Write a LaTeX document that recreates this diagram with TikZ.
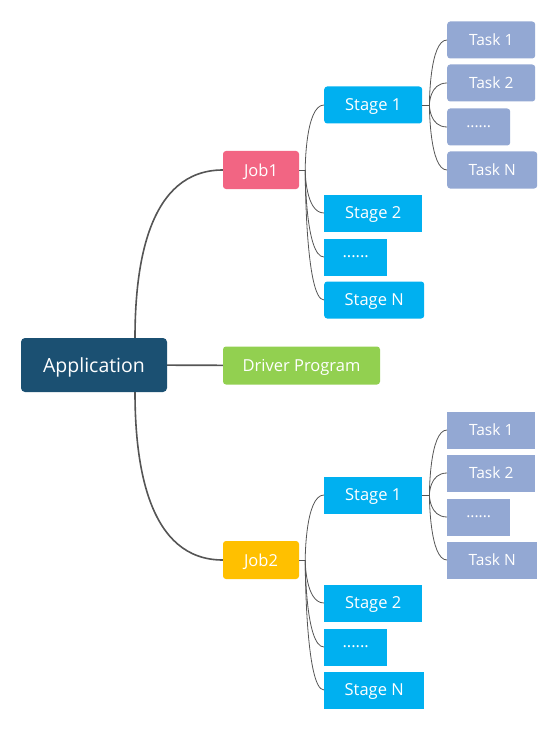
\documentclass[tikz,border=0pt]{standalone}
\usepackage{fontspec}
\setmainfont{Open Sans}
\usepackage{tikz}
\usetikzlibrary{%
	positioning% wg. " of "
}
\definecolor{appblue}{HTML}{1B5072}
\definecolor{jobpink}{HTML}{F26583}
\definecolor{jobyellow}{HTML}{FFC000}
\definecolor{drvgreen}{HTML}{92D050}
\definecolor{stageblue}{HTML}{00B0F0}
\definecolor{taskblue}{HTML}{93A8D3}
\definecolor{linegray}{HTML}{555555}
\tikzstyle{box} = [text=white, inner sep=0pt, text depth=0pt, minimum height=37pt, font=\fontsize{16.5}{19}\selectfont]
\tikzstyle{app} = [box, fill=appblue, rounded corners=4pt, minimum width=146pt, minimum height=54pt, font=\fontsize{19.5}{23}\selectfont]
\tikzstyle{job} = [box, rounded corners=3pt, minimum width=76pt, minimum height=38pt]
\tikzstyle{stage} = [box, fill=stageblue, anchor=west]
\tikzstyle{task} = [box, fill=taskblue, anchor=west, font=\fontsize{15.5}{18}\selectfont]
\tikzstyle{link} = [draw=linegray, line width=1.6pt]
\tikzstyle{branch} = [draw=linegray, line width=0.8pt]

\begin{document}
\begin{tikzpicture}[x=1pt,y=-1pt]
	\useasboundingbox (0,0) rectangle (558,730);
	
	% root and driver
	\node[app] (app) at (94,365) {Application};
	\node[job, fill=drvgreen, minimum width=157pt] (drv) at (301.5,365.5) {Driver Program};
	\path[link] (app) -- (drv);
	
	% the jobs
	\foreach \j/\y/\col in {1/170/jobpink, 2/560/jobyellow}
	\node[job, fill=\col] (job\j) at (261,\y) {Job\j};
	
	\coordinate[right=41pt of app.north] (up);
	\coordinate[right=41pt of app.south] (down);
	\path[link] (up) to[out=90,in=180] (job1.west);
	\path[link] (down) to[out=-90,in=180] (job2.west);
	
	% stages and tasks of each job
	\foreach \j/\y/\rc in {1/170/3pt, 2/560/0pt} {
		\foreach \k/\dy/\w/\r/\txt in {
			1/-65/98/\rc/{Stage 1},
			2/43/98/0pt/{Stage 2},
			3/87/63/0pt/{......},
			N/130/100/\rc/{Stage N}
		}
		\node[stage, minimum width=\w pt, rounded corners=\r] (s\j\k) at (324,\y+\dy) {\txt};
		
		\foreach \k/\dy/\w/\txt in {
			1/-130/88/{Task 1},
			2/-87/88/{Task 2},
			3/-43/63/{......},
			N/0/90/{Task N}
		}
		\node[task, minimum width=\w pt, rounded corners=\rc] (t\j\k) at (447,\y+\dy) {\txt};
		
		% connect job with stages
		\coordinate[right=6pt of job\j] (b\j);
		\path[branch] (job\j) -- (b\j);
		\foreach \k in {1,2,3,N}
		\path[branch] (b\j) .. controls (b\j) and (b\j |- s\j\k.west) .. (s\j\k.west);
		
		% connect stage 1 with tasks
		\coordinate[right=7pt of s\j1] (c\j);
		\path[branch] (s\j1) -- (c\j);
		\foreach \k in {1,2,3,N}
		\path[branch] (c\j) .. controls (c\j) and (c\j |- t\j\k.west) .. (t\j\k.west);
	}
	
\end{tikzpicture}
\end{document}
